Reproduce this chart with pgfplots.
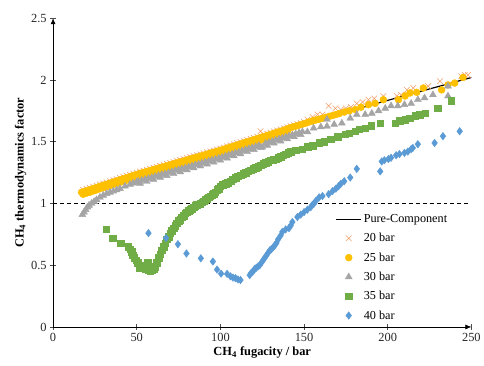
\documentclass[border=0pt]{standalone}
\usepackage{pgfplots}
\pgfplotsset{compat=1.18}
\usepackage{fontspec}
\setmainfont{Liberation Serif}
\usetikzlibrary{arrows.meta}
\definecolor{cOr}{HTML}{ED7D31}
\definecolor{cYe}{HTML}{FFC000}
\definecolor{cGr}{HTML}{A5A5A5}
\definecolor{cGn}{HTML}{70AD47}
\definecolor{cBl}{HTML}{5B9BD5}
\begin{document}
\begin{tikzpicture}
\begin{axis}[
  scale only axis, width=420bp, height=310bp,
  xmin=0, xmax=250, ymin=0, ymax=2.5,
  axis lines=left,
  axis line style={line width=0.6pt, -{Latex[length=6bp,width=5bp]}},
  xtick={0,50,...,250}, ytick={0,0.5,1,1.5,2,2.5},
  tick align=center, major tick length=6bp,
  tick style={line width=0.5pt, black!70},
  /pgf/number format/assume math mode=true,
  yticklabel style={/pgf/number format/fixed},
  every tick label/.append style={font=\fontsize{12.5}{14}\selectfont, text=black!85},
  xlabel={\textbf{CH\textsubscript{4} fugacity / bar}},
  ylabel={\textbf{CH\textsubscript{4} thermodynamics factor}},
  label style={font=\fontsize{12.5}{14}\selectfont},
  ylabel style={yshift=-2bp},
  xlabel style={yshift=2bp},
  legend style={at={(axis cs:167,0.945)}, anchor=north west, draw=none, fill=none,
     font=\fontsize{12.3}{14}\selectfont, row sep=5.4bp},
  legend cell align=left,
  legend image code/.code={\draw[mark repeat=2,mark phase=2,#1] plot coordinates {(0bp,0bp)(12.5bp,0bp)(25bp,0bp)};},
]
\addplot[black, line width=1.1pt, dash pattern=on 4bp off 3bp, forget plot] coordinates {(0,1)(250,1)};
\addplot[black, line width=1.2pt] coordinates {(17,1.09)(50,1.235)(100,1.43)(150,1.645)(200,1.835)(250,2.02)};
\addlegendentry{Pure-Component}
% 20 bar
\addplot[only marks, mark=x, mark size=4bp, color=cOr!75, mark options={line width=0.55pt}] coordinates {
(18,1.110)(20,1.119)(22,1.127)(24,1.136)(26,1.145)(28,1.154)(30,1.162)(32,1.171)(34,1.180)(36,1.189)
(38,1.197)(40,1.206)(42,1.215)(44,1.224)(46,1.233)(48,1.241)(50,1.250)(52,1.258)(54,1.266)(56,1.273)
(58,1.281)(60,1.289)(62,1.297)(64,1.305)(66,1.313)(68,1.320)(70,1.328)(72,1.336)(74,1.344)(76,1.351)
(78,1.359)(80,1.367)(82,1.375)(84,1.383)(86,1.390)(88,1.398)(90,1.406)(92,1.414)(94,1.422)(96,1.429)
(98,1.437)(100,1.445)(102,1.454)(104,1.462)(106,1.471)(108,1.480)(110,1.488)(112,1.497)(114,1.505)
(116,1.514)(118,1.523)(120,1.531)(122,1.540)(124,1.585)(126,1.557)(128,1.565)(130,1.574)(132,1.583)
(134,1.591)(136,1.600)(138,1.609)(140,1.617)(142,1.626)(144,1.634)(146,1.643)(148,1.652)(150,1.660)
(152,1.68)(155,1.70)(158,1.72)(161,1.72)(164.7,1.79)(168.7,1.77)(172,1.76)(175,1.77)(178,1.78)
(181.5,1.81)(185,1.82)(188.5,1.84)(192,1.85)(197.4,1.87)(205.4,1.87)(208,1.88)(211.4,1.92)
(215.3,1.935)(224.2,1.95)(231.2,1.99)(244,2.03)(246,2.04)(248,2.04)};
\addlegendentry{20 bar}
% 25 bar
\addplot[only marks, mark=*, mark size=3.5bp, color=cYe] coordinates {
(17,1.090)(19,1.099)(21,1.108)(23,1.116)(25,1.125)(27,1.134)(29,1.143)(31,1.152)(33,1.160)(35,1.169)
(37,1.178)(39,1.187)(41,1.196)(43,1.204)(45,1.213)(47,1.222)(49,1.231)(51,1.239)(53,1.247)(55,1.255)
(57,1.262)(59,1.270)(61,1.278)(63,1.286)(65,1.294)(67,1.301)(69,1.309)(71,1.317)(73,1.325)(75,1.333)
(77,1.340)(79,1.348)(81,1.356)(83,1.364)(85,1.372)(87,1.379)(89,1.387)(91,1.395)(93,1.403)(95,1.411)
(97,1.418)(99,1.426)(101,1.434)(103,1.443)(105,1.452)(107,1.460)(109,1.469)(111,1.477)(113,1.486)
(115,1.495)(117,1.503)(119,1.512)(121,1.520)(123,1.529)(125,1.538)(127,1.546)(129,1.555)(131,1.563)
(133,1.572)(135,1.581)(137,1.589)(139,1.598)(141,1.610)(143,1.618)(145,1.626)(147,1.634)(149,1.642)
(151,1.650)(153,1.660)(155,1.668)(157,1.676)(159,1.682)(161,1.690)(163,1.697)(165,1.705)(167,1.712)
(169,1.720)(171,1.728)(174,1.74)(177,1.75)(180.6,1.76)(184,1.78)(188.5,1.80)(192.5,1.81)
(197.4,1.84)(206.4,1.84)(210.4,1.87)(213.3,1.895)(217.3,1.90)(221.3,1.935)(232.2,1.92)(236,1.96)
(240,1.975)(245,2.02)
(18,1.075)(20,1.084)(22,1.092)(24,1.101)(26,1.110)(28,1.119)(30,1.127)(32,1.136)(34,1.145)(36,1.154)
(38,1.162)(40,1.171)(42,1.180)(44,1.189)(46,1.198)(48,1.206)(50,1.215)(52,1.223)(54,1.231)(56,1.238)
(58,1.246)(60,1.254)(62,1.262)(64,1.270)(66,1.278)(68,1.285)(70,1.293)(72,1.301)(74,1.309)(76,1.316)
(78,1.324)(80,1.332)(82,1.340)(84,1.348)(86,1.355)(88,1.363)(90,1.371)(92,1.379)(94,1.387)(96,1.394)
(98,1.402)(100,1.410)(102,1.419)(104,1.427)(106,1.436)(108,1.445)(110,1.453)(112,1.462)(114,1.470)
(116,1.479)(118,1.488)(120,1.496)(122,1.505)(124,1.513)(126,1.522)(128,1.530)(130,1.539)(132,1.548)
(134,1.556)(136,1.565)(138,1.574)(140,1.582)};
\addlegendentry{25 bar}
% 30 bar
\addplot[only marks, mark=triangle*, mark size=4bp, color=cGr] coordinates {
(17.5,0.91)(18.5,0.93)(19.5,0.95)(20.5,0.97)(21.5,0.985)(23,1.0)(24.5,1.015)(26,1.03)(28,1.05)
(30,1.065)(32,1.08)(34,1.09)(36,1.10)(38,1.11)(40,1.12)(43,1.14)(46,1.155)(48,1.165)(50,1.175)
(51,1.179)(53,1.187)(55,1.195)(57,1.202)(59,1.210)(61,1.218)(63,1.226)(65,1.234)(67,1.241)(69,1.249)
(71,1.257)(73,1.265)(75,1.273)(77,1.280)(79,1.288)(81,1.296)(83,1.304)(85,1.312)(87,1.319)(89,1.327)
(91,1.335)(93,1.343)(95,1.351)(97,1.358)(99,1.366)(101,1.374)(103,1.383)(105,1.392)(107,1.400)
(109,1.409)(111,1.417)(113,1.426)(115,1.435)(117,1.443)(119,1.452)(121,1.460)(123,1.469)(125,1.455)
(127,1.486)(129,1.495)(131,1.503)(133,1.512)(135,1.521)(137,1.529)(139,1.538)(141,1.546)(143,1.555)
(145,1.564)(147,1.572)(149,1.581)
(152,1.58)(155.7,1.61)(160,1.62)(163.7,1.68)(163.7,1.625)(168,1.64)(172.6,1.65)(177.6,1.69)
(181.5,1.72)(186.5,1.72)(190.5,1.73)(194.5,1.75)(198.5,1.77)(202,1.79)(206,1.79)(210,1.80)
(214,1.81)(218,1.84)(222,1.855)(227,1.88)(236,1.87)(236,1.95)
(52,1.163)(56,1.178)(60,1.194)(64,1.210)(68,1.225)(72,1.241)(76,1.256)(80,1.272)(84,1.288)(88,1.303)
(92,1.319)(96,1.334)(100,1.350)(104,1.367)(108,1.385)(112,1.402)(116,1.419)(120,1.436)(124,1.453)
(128,1.470)(132,1.488)(136,1.505)(140,1.522)(144,1.540)(148,1.557)};
\addlegendentry{30 bar}
% 35 bar
\addplot[only marks, mark=square*, mark size=3.3bp, color=cGn] coordinates {
(31.8,0.79)(35.7,0.72)(40.3,0.68)(45,0.65)(46,0.63)(47,0.61)(47.6,0.58)(48.5,0.56)(49.6,0.54)
(50.5,0.52)(51.6,0.48)(53,0.50)(54,0.48)(55,0.47)(56.5,0.52)(57,0.46)(58,0.455)(59,0.46)(60,0.47)
(61,0.49)(62,0.52)(63,0.56)(64,0.59)(65,0.62)(66,0.65)(67,0.68)(68,0.71)(69,0.73)(70,0.76)(71,0.78)
(72,0.80)(73,0.82)(74,0.84)(75,0.86)(76,0.87)(77,0.89)(78,0.90)(79,0.92)(80,0.93)(81,0.94)(82,0.95)
(83,0.96)(84,0.97)(85,0.98)(86,0.99)(87,0.995)(88,1.00)(89,1.01)(90,1.02)(91,1.03)(92,1.04)(93,1.05)
(94,1.06)(95,1.07)(96,1.08)(97,1.09)(98,1.11)(99,1.12)(100,1.14)(101.5,1.15)(103,1.16)(104.5,1.17)
(106,1.18)(107.5,1.195)(109,1.21)(110.5,1.22)(112,1.23)(113.5,1.24)(115,1.25)(116.5,1.26)(118,1.27)
(119.5,1.28)(121,1.29)(122.5,1.30)(124,1.31)(125.5,1.32)(127,1.33)(128.5,1.34)(130,1.35)(131.5,1.355)
(133,1.36)(134.5,1.37)(136,1.38)(137.5,1.39)(139,1.40)(140.5,1.41)(142,1.42)(145,1.43)(149,1.44)
(152,1.46)(155,1.47)(159,1.49)(162,1.50)(166,1.52)(170,1.54)(174.6,1.56)(177,1.57)(180.6,1.585)
(183,1.60)(186.5,1.61)(190,1.63)(195.5,1.65)(204.4,1.65)(207,1.67)(210.4,1.68)(213,1.69)(216.3,1.71)
(219,1.72)(222.3,1.73)(230,1.77)(238,1.83)};
\addlegendentry{35 bar}
% 40 bar
\addplot[only marks, mark=diamond*, mark size=3.8bp, color=cBl] coordinates {
(57,0.76)(67.5,0.72)(74.6,0.67)(79.7,0.595)(88.3,0.556)(95.5,0.53)(98,0.465)(100.4,0.432)(104,0.43)
(106,0.41)(107.5,0.40)(109,0.395)(110.5,0.385)(112,0.38)
(117.5,0.42)(118.5,0.44)(119.5,0.45)(120.5,0.47)(121.5,0.48)(122.5,0.49)(123.5,0.50)(124.5,0.52)
(125.5,0.54)(126.5,0.56)(127.5,0.58)(128.5,0.60)(129.5,0.62)(130.5,0.63)(131.5,0.645)(132.5,0.66)
(133.5,0.68)(134.5,0.71)(136,0.74)(137,0.77)(139,0.79)(141,0.80)(142,0.82)(143,0.85)(146,0.89)
(148,0.91)(150,0.93)(152,0.95)(154,0.97)(155,0.99)(156,1.00)(157,1.02)(159,1.05)(161,1.06)
(164.7,1.075)(167,1.10)(169,1.12)(170.6,1.14)(172,1.16)(174,1.18)(177.6,1.21)(181.5,1.28)
(195.5,1.26)(196.4,1.34)(198,1.35)(200.4,1.36)(202,1.37)(205,1.39)(207,1.40)(210,1.41)(212,1.42)
(214,1.44)(215,1.45)(218,1.48)(228,1.49)(233,1.545)(243,1.585)};
\addlegendentry{40 bar}
\end{axis}
\path (-53.3bp,-38.7bp) rectangle (430.7bp,328.3bp);
\end{tikzpicture}
\end{document}
